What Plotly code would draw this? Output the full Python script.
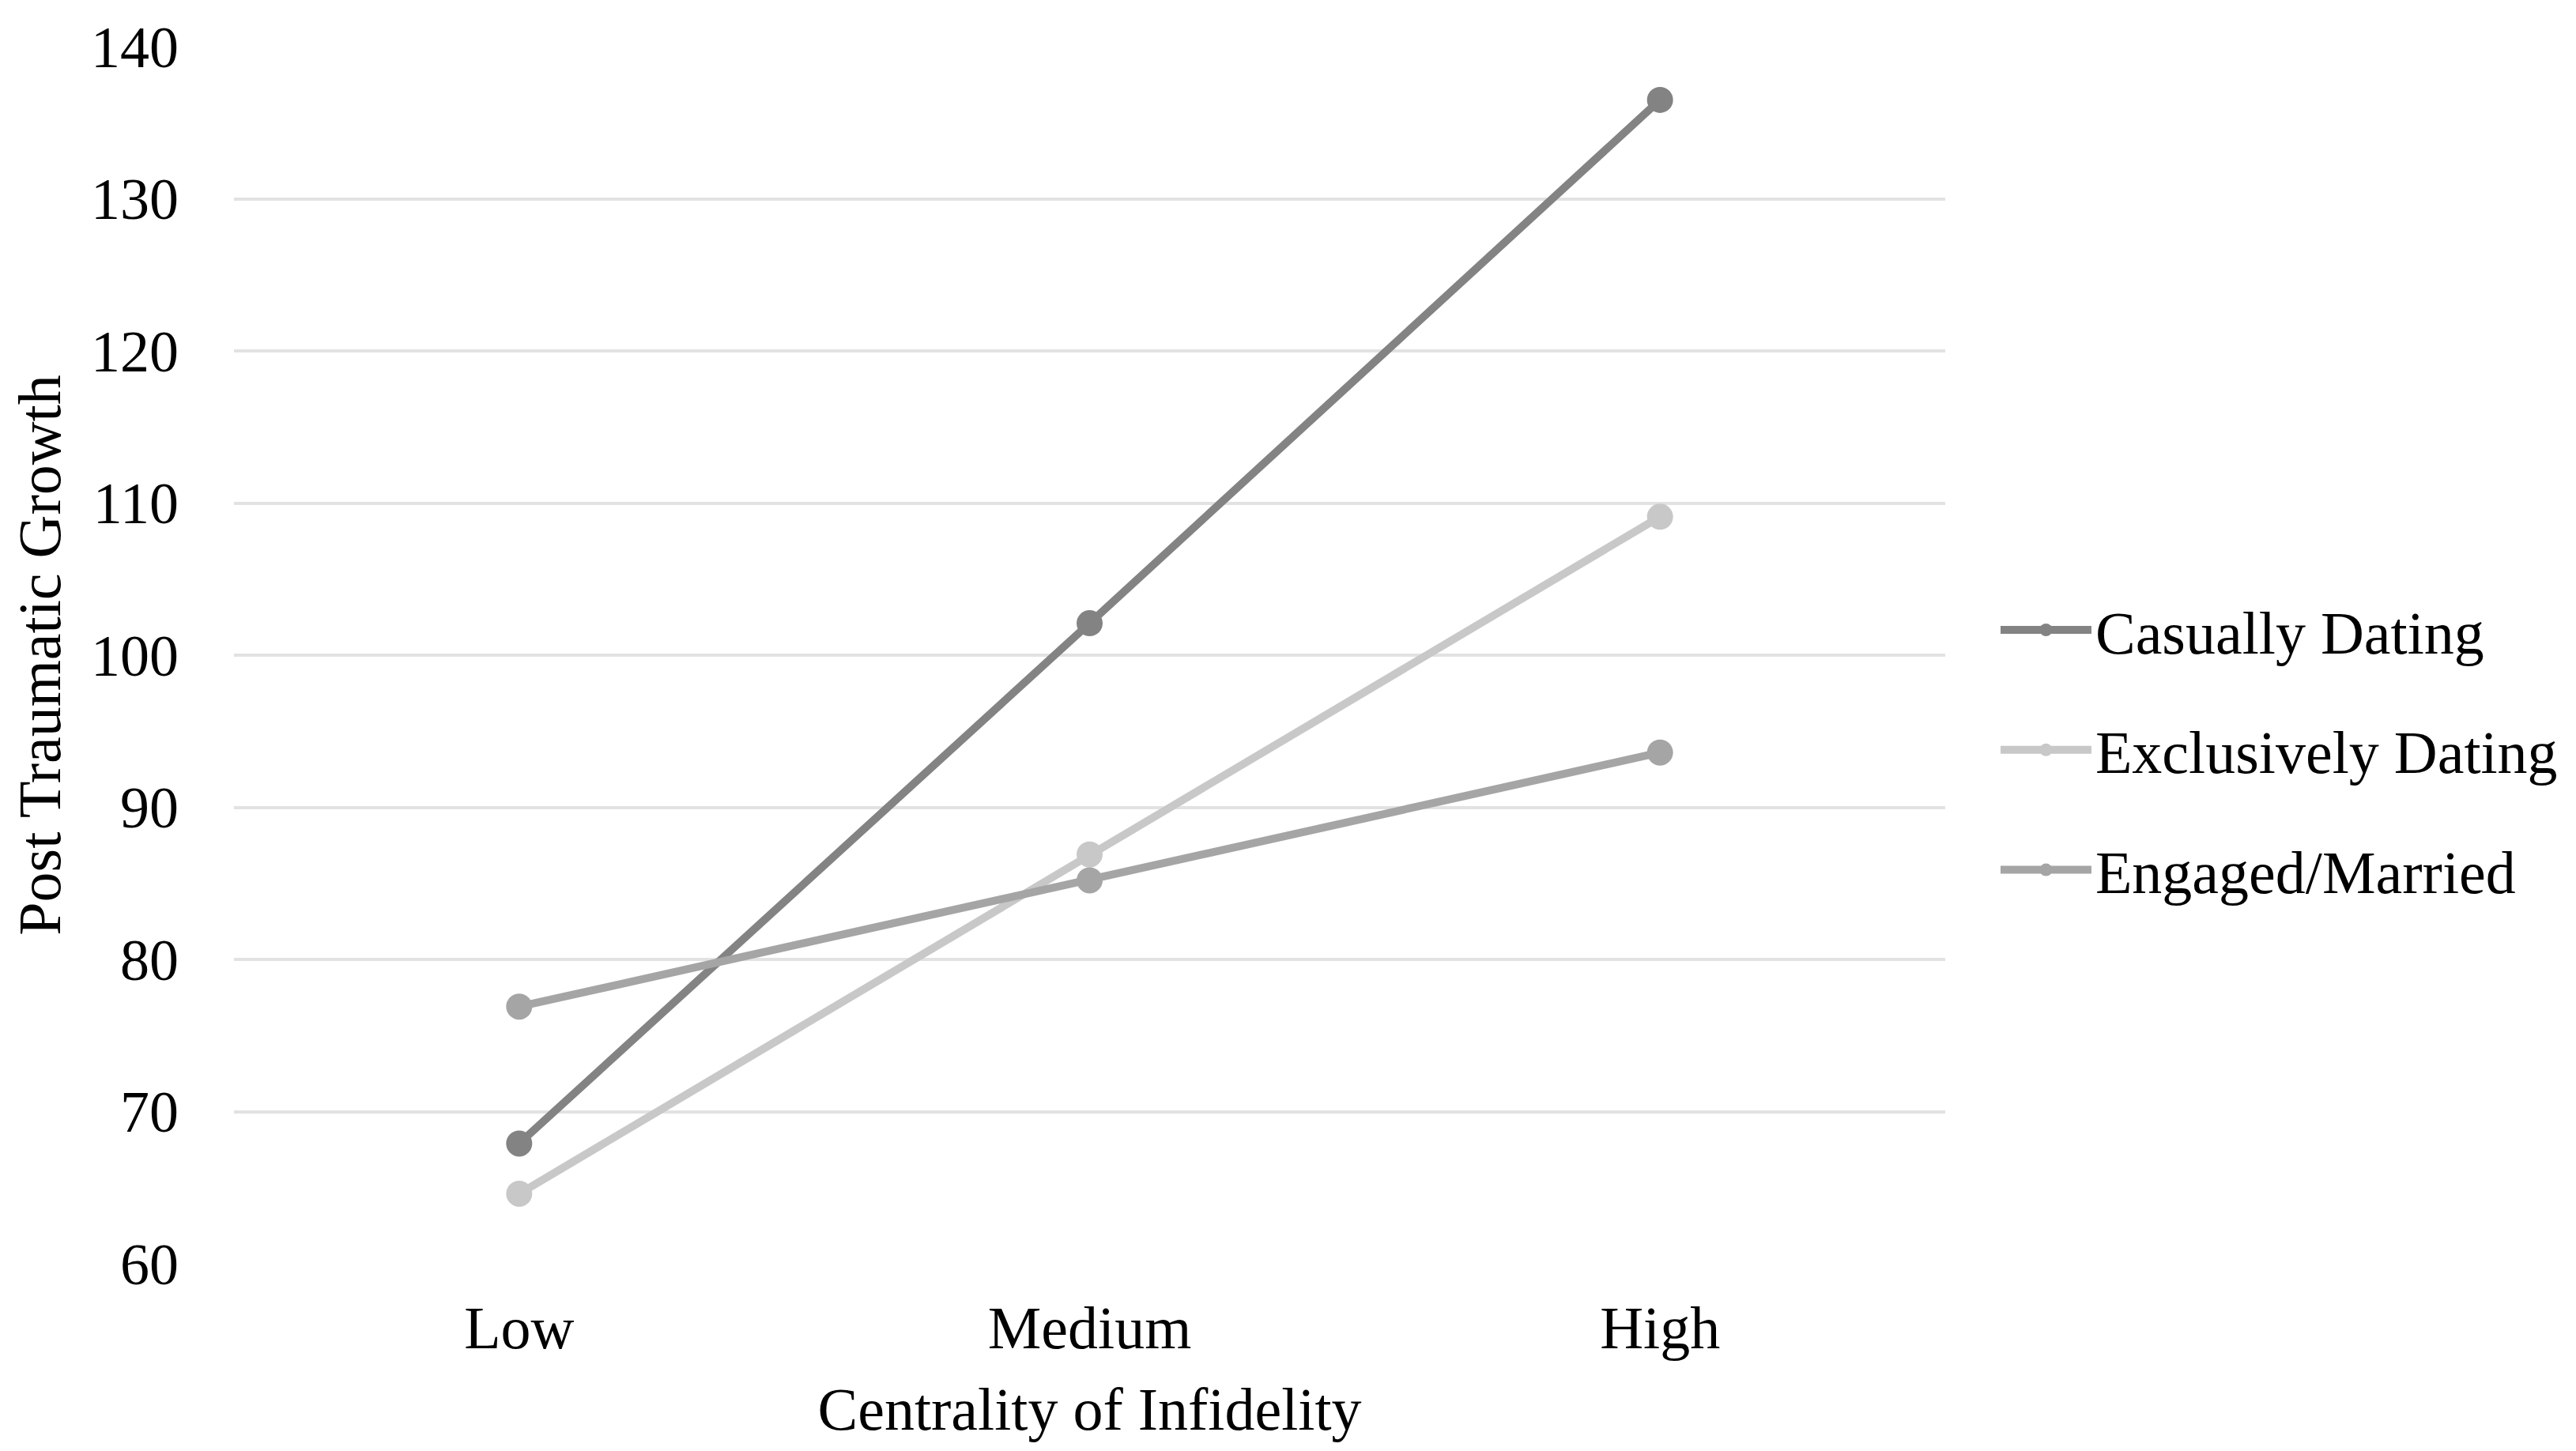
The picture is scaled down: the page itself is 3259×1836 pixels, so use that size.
import plotly.graph_objects as go

categories = ["Low", "Medium", "High"]
casually_dating = [67.9, 102.1, 136.5]
exclusively_dating = [64.6, 86.9, 109.1]
engaged_married = [76.9, 85.2, 93.6]
series_names = ["Casually Dating", "Exclusively Dating", "Engaged/Married"]
series_colors = ["#838383", "#c8c8c8", "#a5a5a5"]
y_ticks = [60, 70, 80, 90, 100, 110, 120, 130, 140]

FONT = "Liberation Serif"
fig = go.Figure()
for i, (name, vals, col) in enumerate(zip(series_names,
                                           [casually_dating, exclusively_dating, engaged_married],
                                           series_colors)):
    fig.add_trace(go.Scatter(
        x=categories, y=vals, name=name, mode="lines+markers",
        line=dict(color=col, width=10),
        marker=dict(color=col, size=33),
        legendgroup=f"g{i}",
    ))

fig.update_layout(
    width=3259, height=1836,
    paper_bgcolor="white", plot_bgcolor="white",
    margin=dict(l=288, r=806, t=51, b=245),
    font=dict(family=FONT, size=76, color="black"),
    showlegend=True,
    legend=dict(
        x=1.03, xanchor="left", y=0.422, yanchor="middle",
        traceorder="grouped", tracegroupgap=50,
        font=dict(family=FONT, size=76, color="black"),
        itemwidth=115,
    ),
    xaxis=dict(
        type="category", categoryarray=categories, range=[-0.5, 2.5],
        showgrid=False, zeroline=False, showline=False, ticks="",
        tickfont=dict(family=FONT, size=76),
        title=dict(text="Centrality of Infidelity", font=dict(family=FONT, size=76), standoff=34),
        ticklabelstandoff=30,
    ),
    yaxis=dict(
        range=[60, 140], tickvals=y_ticks, ticktext=[str(v) for v in y_ticks],
        showgrid=True, gridcolor="#e2e2e2", gridwidth=4,
        zeroline=False, showline=False, ticks="",
        tickfont=dict(family=FONT, size=74),
        title=dict(text="Post Traumatic Growth", font=dict(family=FONT, size=76), standoff=14),
        ticklabelstandoff=69,
    ),
)

fig.write_html("out.html")
